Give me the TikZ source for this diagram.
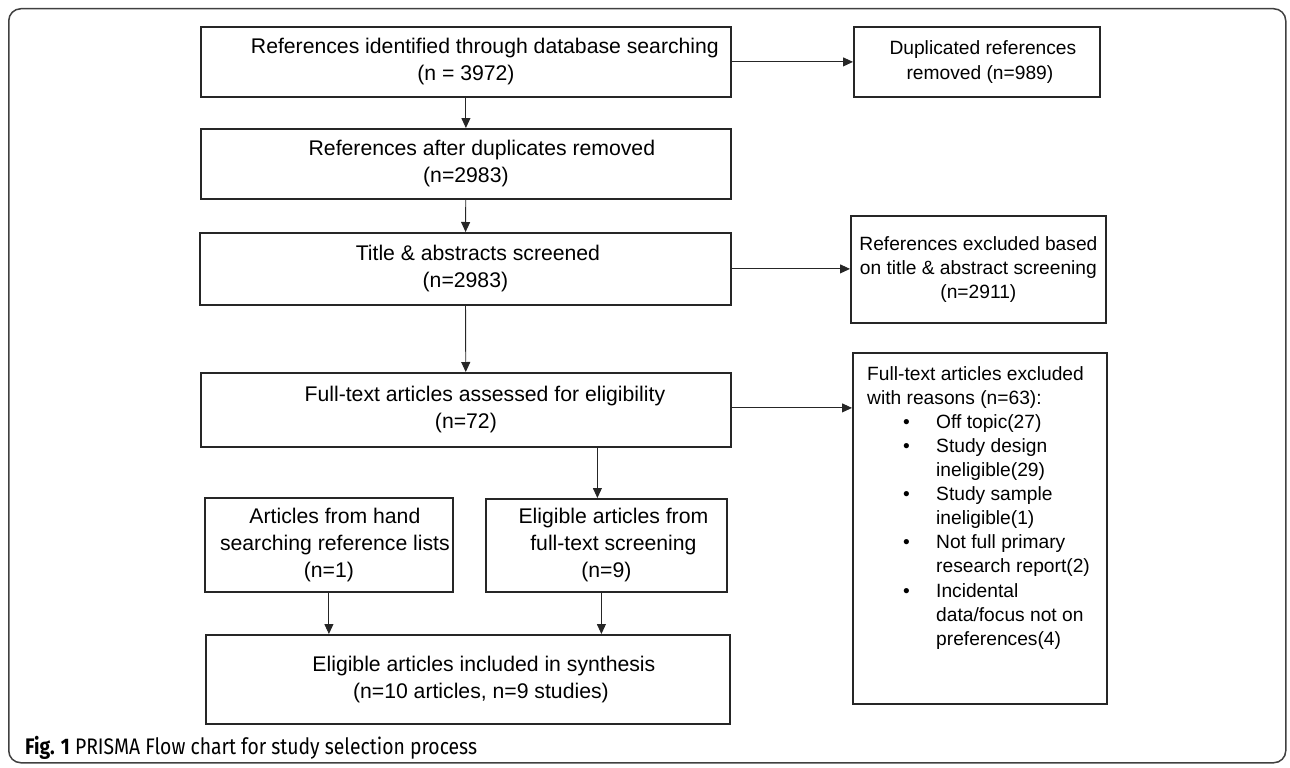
\documentclass[tikz,border=0pt]{standalone}
\usepackage{fontspec}
\setmainfont{Liberation Sans}
\newfontfamily\capfont[FakeStretch=0.86]{Fira Sans}
\usetikzlibrary{arrows.meta}
\tikzset{
  box/.style={draw=black!85, line width=1.8pt, align=center, inner sep=0pt, anchor=north west,
              font=\fontsize{21.2}{27}\selectfont},
  sbox/.style={box, font=\fontsize{19.2}{24.3}\selectfont},
  arr/.style={-{Triangle[length=10pt,width=9pt]}, line width=0.9pt, draw=black!85},
  frame/.style={draw=black!75, line width=1.5pt, rounded corners=12pt}
}
\begin{document}
\begin{tikzpicture}[x=1pt,y=-1pt]
\useasboundingbox (0,0) rectangle (1290,768);
\node[frame, anchor=north west, minimum width=1277pt, minimum height=754pt, inner sep=0pt] (fr) at (8,8) {};

\node[box, minimum width=530pt, minimum height=70pt] (top) at (200,26) {\hspace*{38pt}References identified through database searching\\(n = 3972)};
\node[sbox, minimum width=246pt, minimum height=70pt] (dup) at (853,26) {\hspace*{12pt}Duplicated references\\\hspace*{6pt}removed (n=989)};
\node[box, minimum width=530pt, minimum height=70pt] (b2) at (200,128) {\hspace*{32pt}References after duplicates removed\\(n=2983)};
\node[box, minimum width=531pt, minimum height=72pt] (b3) at (199,232) {\hspace*{25pt}Title \& abstracts screened\\(n=2983)};
\node[sbox, minimum width=255pt, minimum height=107pt] (rex) at (850,215) {References excluded based\\on title \& abstract screening\\(n=2911)};
\node[box, minimum width=530pt, minimum height=74pt] (b4) at (200,372) {\hspace*{38pt}Full-text articles assessed for eligibility\\(n=72)};
\node[box, minimum width=254pt, minimum height=351pt] (fx) at (852,352) {};
\node[anchor=north west, align=left, inner sep=0pt, font=\fontsize{19.2}{24.1}\selectfont] (fxt) at ([xshift=15pt,yshift=-14pt]fx.north west)
 {Full-text articles excluded\\
  with reasons (n=63):\\
  \hspace*{36pt}\makebox[33pt][l]{\textbullet}Off topic(27)\\
  \hspace*{36pt}\makebox[33pt][l]{\textbullet}Study design\\
  \hspace*{69pt}ineligible(29)\\
  \hspace*{36pt}\makebox[33pt][l]{\textbullet}Study sample\\
  \hspace*{69pt}ineligible(1)\\
  \hspace*{36pt}\makebox[33pt][l]{\textbullet}Not full primary\\
  \hspace*{69pt}research report(2)\\
  \hspace*{36pt}\makebox[33pt][l]{\textbullet}Incidental\\
  \hspace*{69pt}data/focus not on\\
  \hspace*{69pt}preferences(4)};
\node[box, minimum width=248pt, minimum height=94pt] (hand) at (204,497) {\hspace*{12pt}Articles from hand\\\hspace*{12pt}searching reference lists\\(n=1)};
\node[box, minimum width=241pt, minimum height=93pt] (elig) at (485,498) {\hspace*{14pt}Eligible articles from\\\hspace*{14pt}full-text screening\\(n=9)};
\node[box, minimum width=524pt, minimum height=89pt] (final) at (205,634) {\hspace*{32pt}Eligible articles included in synthesis\\\hspace*{26pt}(n=10 articles, n=9 studies)};

\node[anchor=west, inner sep=0pt, font=\capfont\fontsize{22.5}{25}\selectfont] (cap) at (25,748) {\textbf{Fig. 1} PRISMA Flow chart for study selection process};

\draw[arr] (top) -- (b2);
\draw[arr] (top.east) -- (dup.west);
\draw[arr] (b2) -- (b3);
\draw[arr] (b3) -- (b4);
\draw[arr] (b3.east) -- (b3.east -| rex.west);
\draw[arr] ([yshift=2pt]b4.east) -- ([yshift=2pt]b4.east -| fx.west);
\draw[arr] ([xshift=-9pt]elig.north |- b4.south) -- ([xshift=-9pt]elig.north);
\draw[arr] (hand.south) -- (hand.south |- final.north);
\draw[arr] ([xshift=-5pt]elig.south) -- ([xshift=-5pt]elig.south |- final.north);
\end{tikzpicture}
\end{document}
